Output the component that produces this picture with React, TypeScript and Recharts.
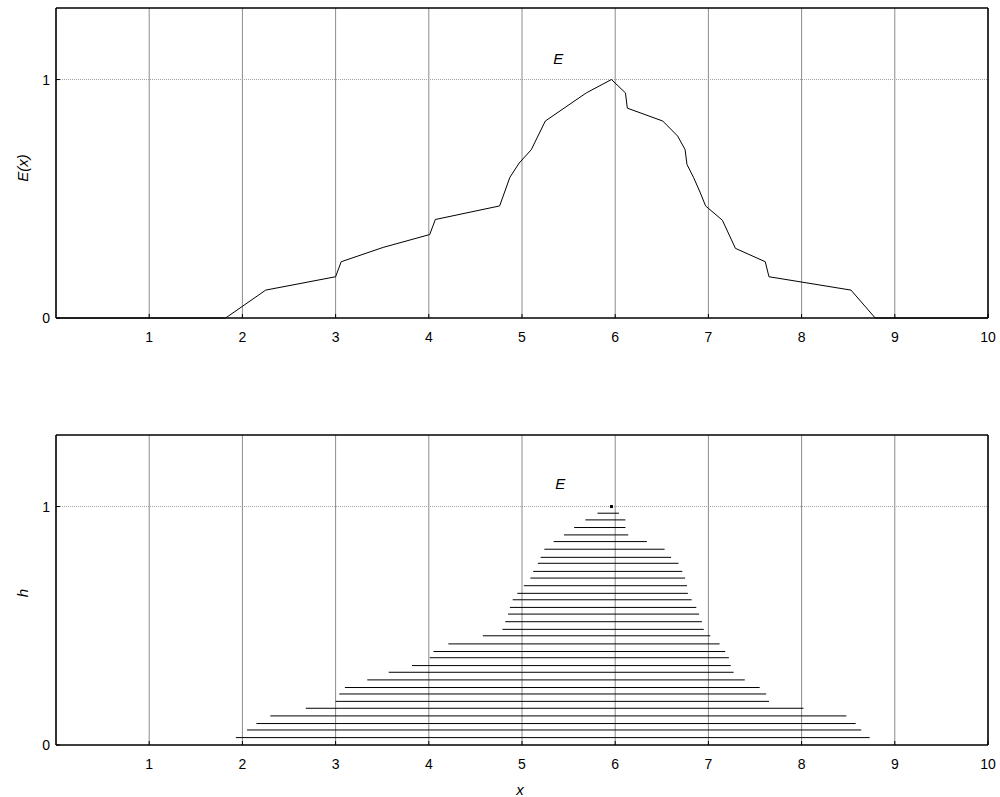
import { CartesianGrid, ComposedChart, Line, LineChart, ReferenceDot, ReferenceLine, XAxis, YAxis } from "recharts";

// tick positions
const xTicks = [1, 2, 3, 4, 5, 6, 7, 8, 9, 10];
const frameTicks = [0, 1, 2, 3, 4, 5, 6, 7, 8, 9, 10];
const yTicks = [0, 1];

// upper panel: membership curve E(x)
const curveX = [0, 1.82, 2.25, 3.0, 3.06, 3.51, 4.01, 4.07, 4.76, 4.87, 4.97, 5.1, 5.25, 5.69, 5.96, 6.11, 6.13, 6.51, 6.67, 6.75, 6.77, 6.84, 6.91, 6.97, 7.15, 7.29, 7.61, 7.65, 8.53, 8.79, 10];
const curveE = [0, 0, 0.117, 0.173, 0.236, 0.296, 0.35, 0.413, 0.47, 0.59, 0.65, 0.706, 0.826, 0.944, 1.0, 0.944, 0.88, 0.826, 0.763, 0.706, 0.644, 0.59, 0.528, 0.47, 0.41, 0.292, 0.236, 0.173, 0.117, 0, 0];

// lower panel: level cuts h -> [left, right]
const cutH = [0.031, 0.063, 0.09, 0.122, 0.154, 0.183, 0.214, 0.241, 0.273, 0.305, 0.333, 0.366, 0.392, 0.424, 0.458, 0.485, 0.517, 0.549, 0.577, 0.609, 0.636, 0.668, 0.7, 0.728, 0.762, 0.787, 0.821, 0.853, 0.881, 0.912, 0.944, 0.972];
const cutLeft = [1.93, 2.05, 2.15, 2.3, 2.68, 3.0, 3.04, 3.1, 3.34, 3.57, 3.82, 4.01, 4.05, 4.21, 4.58, 4.79, 4.82, 4.85, 4.87, 4.9, 4.95, 5.02, 5.09, 5.12, 5.17, 5.2, 5.24, 5.34, 5.45, 5.56, 5.68, 5.81];
const cutRight = [8.73, 8.64, 8.58, 8.48, 8.02, 7.65, 7.62, 7.55, 7.39, 7.27, 7.24, 7.22, 7.18, 7.12, 7.02, 6.95, 6.93, 6.9, 6.87, 6.82, 6.78, 6.77, 6.75, 6.72, 6.68, 6.6, 6.53, 6.34, 6.14, 6.11, 6.11, 6.04];
const peakX = 5.96;
const peakH = 1;

const FONT = "'Liberation Sans', Arial, Helvetica, sans-serif";
const tickStyle = { fill: "#000", fontSize: 14, fontFamily: FONT };
const axisLine = { stroke: "#000", strokeWidth: 1.5 };

const curveData = curveX.map((x, i) => ({ x, e: curveE[i] }));
const cutData: { x: number; h: number | null; peak?: boolean }[] = [];
cutH.forEach((h, i) => {
  cutData.push({ x: cutLeft[i], h }, { x: cutRight[i], h }, { x: cutRight[i], h: null });
});
cutData.push({ x: peakX, h: peakH, peak: true });

function yTitle(text: string, shift: number) {
  return (props: any) => {
    const vb = props.viewBox || {};
    const cx = 22;
    const cy = (vb.y ?? 0) + (vb.height ?? 0) / 2 + shift;
    return (
      <text x={cx} y={cy} transform={`rotate(-90 ${cx} ${cy})`} textAnchor="middle" dominantBaseline="central"
        fontFamily={FONT} fontSize={15} fontStyle="italic" fill="#000">
        {text}
      </text>
    );
  };
}

function xTitle(text: string) {
  return (props: any) => {
    const vb = props.viewBox || {};
    const cx = (vb.x ?? 0) + (vb.width ?? 0) / 2 - 2;
    return (
      <text x={cx} y={(vb.y ?? 0) + 44} textAnchor="middle" dominantBaseline="central"
        fontFamily={FONT} fontSize={15} fontStyle="italic" fill="#000">
        {text}
      </text>
    );
  };
}

// box, inward ticks and grid shared by both panels
function frame(title: string, shift: number, xLabel?: string) {
  return [
    <CartesianGrid key="grid" horizontal={false} stroke="#8c8c8c" strokeWidth={1} />,
    <ReferenceLine key="one" y={1} stroke="#a0a0a0" strokeDasharray="1 1" />,
    <XAxis key="xb" dataKey="x" type="number" domain={[0, 10]} ticks={xTicks} interval={0}
      axisLine={axisLine} tickLine={{ stroke: "#000" }} tick={tickStyle} tickSize={-4} tickMargin={18} height={40}
      label={xLabel ? xTitle(xLabel) : undefined} />,
    <XAxis key="xt" xAxisId="t" orientation="top" dataKey="x" type="number" domain={[0, 10]} ticks={frameTicks}
      interval={0} axisLine={axisLine} tickLine={{ stroke: "#000" }} tick={false} tickSize={-4} height={1} />,
    <YAxis key="yl" type="number" domain={[0, 1.3]} ticks={yTicks} interval={0}
      axisLine={axisLine} tickLine={{ stroke: "#000" }} tick={tickStyle} tickSize={-4} tickMargin={10} width={40}
      label={yTitle(title, shift)} />,
    <YAxis key="yr" yAxisId="r" orientation="right" type="number" domain={[0, 1.3]} ticks={yTicks}
      interval={0} axisLine={axisLine} tickLine={{ stroke: "#000" }} tick={false} tickSize={-4} width={1} />,
  ];
}

function eMark(x: number, y: number) {
  return (
    <ReferenceDot x={x} y={y} r={0} fill="none" stroke="none"
      label={{ value: "E", position: "center", fill: "#000", fontSize: 15, fontStyle: "italic", fontFamily: FONT }} />
  );
}

export default function App() {
  return (
    <div style={{ position: "absolute", left: 0, top: 0, width: 1000, height: 797, background: "#fff" }}>
      <div style={{ position: "absolute", left: 0, top: 0 }}>
        <LineChart width={1000} height={360} data={curveData} margin={{ top: 7, right: 11, bottom: 2, left: 16 }}>
          {frame("E(x)", 5)}
          {eMark(5.39, 1.088)}
          <Line type="linear" dataKey="e" stroke="#000" strokeWidth={1} dot={false} isAnimationActive={false} />
        </LineChart>
      </div>
      <div style={{ position: "absolute", left: 0, top: 427 }}>
        <ComposedChart width={1000} height={370} data={cutData} margin={{ top: 7, right: 11, bottom: 12, left: 16 }}>
          {frame("h", 3, "x")}
          {eMark(5.41, 1.097)}
          <Line type="linear" dataKey="h" stroke="#000" strokeWidth={1} connectNulls={false} isAnimationActive={false}
            dot={(p: any) =>
              p.payload && p.payload.peak ? (
                <rect key={`pk${p.index}`} x={p.cx - 1.5} y={p.cy - 1.5} width={3} height={3} fill="#000" />
              ) : (
                <g key={`d${p.index}`} />
              )
            } />
        </ComposedChart>
      </div>
    </div>
  );
}
